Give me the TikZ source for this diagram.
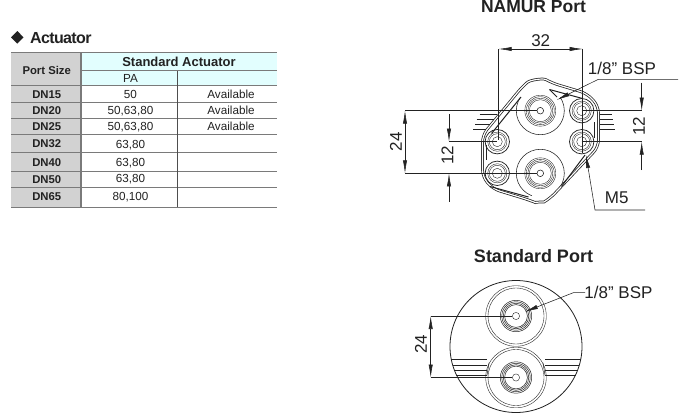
\documentclass[tikz,border=0pt]{standalone}
\usepackage{fontspec}
\setmainfont{Liberation Sans}
\usetikzlibrary{arrows.meta}
\definecolor{cellgrey}{HTML}{D2D2D2}
\definecolor{cellcyan}{HTML}{E2FEFE}
\definecolor{rulegrey}{HTML}{7A7A7A}
\definecolor{ink}{HTML}{222222}
\tikzset{
  tbl/.style={inner sep=0pt,font=\fontsize{11.7}{12}\selectfont,text=ink},
  tblb/.style={tbl,font=\fontsize{11.3}{12}\selectfont\bfseries},
  dimtext/.style={inner sep=0pt,text=ink,font=\fontsize{17}{18}\selectfont},
  titletext/.style={inner sep=0pt,text=ink,font=\fontsize{17.5}{18}\selectfont\bfseries},
  thin line/.style={line width=0.55pt,draw=ink},
  ring/.style={line width=0.38pt,draw=ink},
  tip/.style={line width=0.55pt,draw=ink,-{Latex[length=13pt,width=4.2pt]}},
  tiptwo/.style={line width=0.55pt,draw=ink,{Latex[length=13pt,width=4.2pt]}-{Latex[length=13pt,width=4.2pt]}},
  rowrule/.style={line width=1pt,draw=rulegrey},
  colrule/.style={line width=0.9pt,draw=ink!80},
  groove/.style={line width=1pt,draw=ink},
}
\newcommand{\bigrings}[1]{%
  \foreach \r in {15.5,14,12.5,11}{\draw[ring] (#1) circle (\r);}
  \draw[thin line] (#1) circle (3.3);
}
\newcommand{\smallport}[1]{%
  \draw[line width=0.75pt,draw=ink] (#1) circle (12.2);
  \draw[ring] (#1) circle (9.6);
  \draw[ring] (#1) circle (8);
  \draw[ring] (#1) circle (5);
}
\newcommand{\stdport}[1]{%
  \draw[ring] (#1) circle (30.3);
  \draw[ring] (#1) circle (28);
  \foreach \r in {15.7,14.2,12.8,11.4}{\draw[line width=0.5pt,draw=ink] (#1) circle (\r);}
  \draw[ring] (#1) circle (3.6);
}
\begin{document}
\begin{tikzpicture}[x=1pt,y=-1pt]
\useasboundingbox (0,0) rectangle (680,415);
\fill[white] (0,0) rectangle (680,415);
% ---- heading
\fill[ink] (17.3,31) -- (23.5,37.3) -- (17.3,43.6) -- (11,37.3) -- cycle;
\node[anchor=west,inner sep=0pt,text=ink,font=\fontsize{16}{17}\selectfont\bfseries\addfontfeature{LetterSpace=-4}] (acttitle) at (30,38) {Actuator};
% ---- table fills
\fill[cellgrey] (11,52.7) rectangle (81,207);
\fill[cellcyan] (81,52.7) rectangle (277,85.7);
% ---- table rules
\foreach \y in {52.7,85.7,102.7,118,134.7,152.3,171,187.3,207}{\draw[rowrule] (11,\y) -- (277,\y);}
\draw[rowrule] (81,70.7) -- (277,70.7);
\draw[rowrule,line width=1.1pt] (81,52.7) -- (81,207);
\draw[colrule] (177.6,70.7) -- (177.6,207);
% ---- table text
\node[tblb] (h1) at (46.7,70) {Port Size};
\node[tblb,font=\fontsize{13}{14}\selectfont\bfseries] (h2) at (179,61.7) {Standard Actuator};
\node[tbl] (h3) at (130.5,78.6) {PA};
\foreach \n/\t/\y in {a/DN15/95,b/DN20/110.7,c/DN25/126.7,d/DN32/144,e/DN40/162.3,f/DN50/180,g/DN65/196.5}{\node[tblb] (port\n) at (46.7,\y) {\t};}
\foreach \n/\t/\y in {a/50/94.7,b/{50,63,80}/110.7,c/{50,63,80}/126.7,d/{63,80}/145,e/{63,80}/162.7,f/{63,80}/179.5,g/{80,100}/197}{\node[tbl] (val\n) at (130.5,\y) {\t};}
\foreach \n/\y in {a/94.7,b/110.7,c/126.7}{\node[tbl] (av\n) at (231,\y) {Available};}
% ---- NAMUR Port
\node[titletext] (namur) at (533.5,7) {NAMUR Port};
\coordinate (B1) at (540.3,110.7);
\coordinate (B2) at (540.3,173.3);
\coordinate (S1) at (581.7,110.7);
\coordinate (S2) at (581.7,141.7);
\coordinate (S3) at (497.3,141.7);
\coordinate (S4) at (497.3,173.3);
% hatch stubs
\foreach \a/\b/\y in {479.5/497/114,476.5/495/119.3,475/491.5/124,473/488/129.3}{\draw[thin line] (\a,\y) -- (\b,\y);}
\foreach \a/\b/\y in {598/612/114,598/613/119.3,598/614/124,598/615/129.3}{\draw[thin line] (\a,\y) -- (\b,\y);}
% body
\draw[line width=0.75pt,draw=ink,double=white,double distance=1.2pt,rounded corners=7pt]
  (522,87) .. controls (530,80) and (543,78) .. (552,83)
  -- (587,93.5) -- (598.5,106) -- (598.5,147) -- (550,198.5)
  .. controls (544,202) and (534,202) .. (529,200)
  -- (493,189) -- (482.5,177) -- (482.5,135) -- cycle;
% grooves
\draw[groove] (549.5,89.5) -- (581.7,98.3);
\draw[groove] (549.5,89.5) -- (557,97);
\draw[groove] (521,97) -- (491.5,133.5);
\draw[groove] (486,145) -- (486,160);
\draw[groove] (594,122) -- (594,138);
\draw[groove] (585,155) -- (561.5,186.5);
\draw[groove] (490,186.5) -- (528.5,197);
% big port outlines, open towards the grooves
\begin{scope}
\clip (540.3,110.7) -- (573.3,88.7) -- (580,150) -- (500,150) -- (507.3,88.7) -- cycle;
\draw[thin line] (B1) circle (24);
\end{scope}
\begin{scope}
\clip (540.3,173.3) -- (573.3,193.3) -- (580,133) -- (500,133) -- (500,213) -- (525.3,213) -- cycle;
\draw[thin line] (B2) circle (24);
\end{scope}
\bigrings{B1}
\bigrings{B2}
\smallport{S1}
\smallport{S2}
\smallport{S3}
\smallport{S4}
% dim 32
\coordinate (d32a) at (498.7,49);
\coordinate (d32b) at (582.7,49);
\draw[thin line] (d32a) -- (498.7,140);
\draw[thin line] (d32b) -- (582.7,153);
\draw[tiptwo] (d32a) -- (d32b);
\node[dimtext] (l32) at (540.7,40.5) {32};
% BSP leader
\coordinate (bspa) at (678,79.3);
\coordinate (bspb) at (598.3,79.3);
\coordinate (bspc) at (556.7,100);
\node[dimtext] (lbsp) at (622,68.5) {1/8” BSP};
\draw[tip] (bspa) -- (bspb) -- (bspc);
% dim 24
\coordinate (d24a) at (405,110.7);
\coordinate (d24b) at (405,173.3);
\coordinate (e24a) at (537,110.7);
\coordinate (e24b) at (537,173.3);
\draw[thin line] (d24a) -- (e24a);
\draw[thin line] (d24b) -- (e24b);
\draw[tiptwo] (d24a) -- (d24b);
\node[dimtext,rotate=90] (l24) at (396,141.7) {24};
% dim 12 left
\coordinate (d12a) at (449,141.7);
\coordinate (d12b) at (449,173.3);
\draw[thin line] (d12a) -- (S3);
\draw[thin line] (d12b) -- (S4);
\draw[tip] (449,114) -- (d12a);
\draw[tip] (449,201.7) -- (d12b);
\node[dimtext,rotate=90] (l12a) at (447.5,155.3) {12};
% dim 12 right
\coordinate (d12c) at (641.7,110.7);
\coordinate (d12d) at (641.7,141.7);
\draw[thin line] (S1) -- (d12c);
\draw[thin line] (S2) -- (d12d);
\draw[tip] (641.7,82.7) -- (d12c);
\draw[tip] (641.7,170) -- (d12d);
\node[dimtext,rotate=90] (l12b) at (639,126) {12};
% M5
\coordinate (m5a) at (645,210);
\coordinate (m5b) at (595,210);
\coordinate (m5c) at (586,155);
\node[dimtext] (lm5) at (616.7,198) {M5};
\draw[tip] (m5a) -- (m5b) -- (m5c);
% ---- Standard Port
\node[titletext,font=\fontsize{18}{19}\selectfont\bfseries] (std) at (533.5,256) {Standard Port};
\coordinate (C0) at (516,346.5);
\coordinate (P1) at (516,316);
\coordinate (P2) at (516,377.5);
\stdport{P1}
\stdport{P2}
% bars and notches
\foreach \y in {359,365,370,375}{
  \draw[line width=0.7pt,draw=ink] ({516-sqrt(66*66-(\y-346.5)*(\y-346.5))},\y) -- (487,\y);
  \draw[line width=0.7pt,draw=ink] (545,\y) -- ({516+sqrt(66*66-(\y-346.5)*(\y-346.5))},\y);
}
\draw[line width=0.8pt,draw=ink] (C0) circle (66);
\draw[thin line] (489,363) -- (487,375);
\draw[thin line] (543,363) -- (545,375);
\coordinate (s24a) at (430.7,316);
\coordinate (s24b) at (430.7,377.5);
\coordinate (s24c) at (512.4,316);
\coordinate (s24d) at (512.4,377.5);
\draw[thin line] (s24a) -- (s24c);
\draw[thin line] (s24b) -- (s24d);
\draw[tiptwo] (s24a) -- (s24b);
\node[dimtext,rotate=90] (ls24) at (421,344) {24};
\node[dimtext] (lsb) at (618.5,292.7) {1/8” BSP};
\coordinate (sba) at (585,292.7);
\coordinate (sbb) at (573.3,292.7);
\coordinate (sbc) at (525,311.7);
\draw[tip] (sba) -- (sbb) -- (sbc);
\end{tikzpicture}
\end{document}
